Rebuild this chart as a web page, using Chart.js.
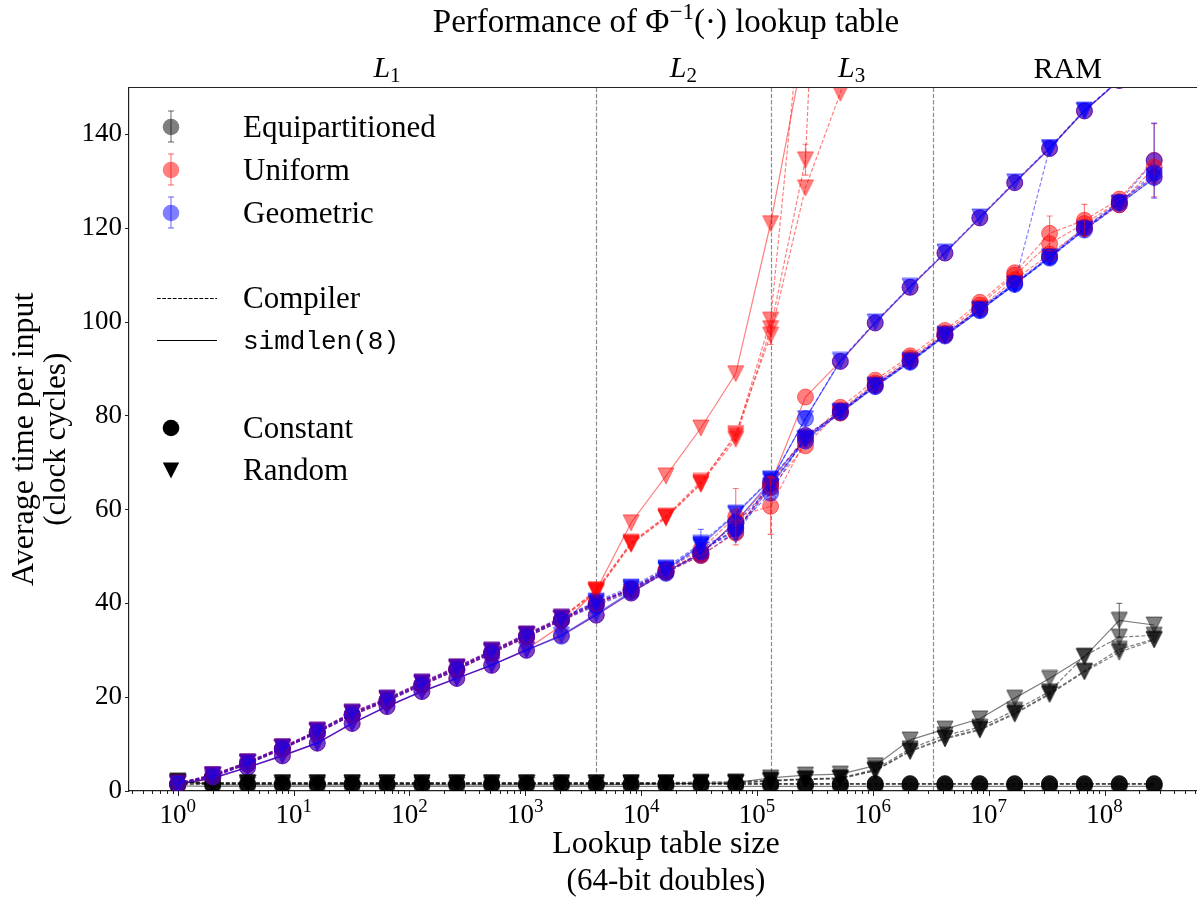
<!DOCTYPE html>
<html>
<head>
<meta charset="utf-8">
<script src="https://cdn.jsdelivr.net/npm/chart.js@4.4.1/dist/chart.umd.min.js"></script>
<style>
  html, body { margin: 0; padding: 0; background: #fff; overflow: hidden; }
  #wrap { width: 1197px; height: 899px; overflow: hidden; }
</style>
</head>
<body>
<div id="wrap"><canvas id="chart" width="1210" height="899"></canvas></div>
<script>
// lookup table sizes (2^0 .. 2^28 doubles)
const sizes = [1, 2, 4, 8, 16, 32, 64, 128, 256, 512, 1024, 2048, 4096, 8192, 16384, 32768,
  65536, 131072, 262144, 524288, 1048576, 2097152, 4194304, 8388608, 16777216, 33554432,
  67108864, 134217728, 268435456];

const cacheSizes = [4096, 131072, 3276800];
const yTicks = [0, 20, 40, 60, 80, 100, 120, 140];
const xTickExponents = [0, 1, 2, 3, 4, 5, 6, 7, 8];

// Equipartitioned
const equiSimdConst = [1.1, 1.0, 1.0, 1.0, 1.0, 1.0, 1.0, 1.0, 1.0, 1.0, 1.0, 1.0, 1.0, 1.0, 1.0, 1.0, 1.0, 1.0, 1.0, 1.0, 1.0, 1.0, 1.0, 1.0, 1.0, 1.0, 1.0, 1.0, 1.0];
const equiCompConstA = [1.5, 1.5, 1.5, 1.5, 1.5, 1.5, 1.5, 1.5, 1.5, 1.5, 1.5, 1.5, 1.5, 1.5, 1.5, 1.5, 1.5, 1.5, 1.5, 1.5, 1.5, 1.5, 1.5, 1.5, 1.5, 1.5, 1.5, 1.5, 1.5];
const equiCompConstB = [1.6, 1.6, 1.6, 1.6, 1.6, 1.6, 1.6, 1.6, 1.6, 1.6, 1.6, 1.6, 1.6, 1.6, 1.6, 1.6, 1.6, 1.6, 1.6, 1.6, 1.6, 1.6, 1.6, 1.6, 1.6, 1.6, 1.6, 1.6, 1.6];
const equiCompConstC = [1.4, 1.4, 1.4, 1.4, 1.4, 1.4, 1.4, 1.4, 1.4, 1.4, 1.4, 1.4, 1.4, 1.4, 1.4, 1.4, 1.4, 1.4, 1.4, 1.4, 1.4, 1.4, 1.4, 1.4, 1.4, 1.4, 1.4, 1.4, 1.4];
const equiSimdRand = [2.2, 1.3, 1.3, 1.3, 1.3, 1.3, 1.3, 1.3, 1.3, 1.3, 1.3, 1.3, 1.3, 1.4, 1.5, 1.6, 1.8, 2.8, 3.4, 3.6, 5.4, 10.9, 13.2, 15.4, 19.8, 24.0, 28.6, 36.4, 35.4];
const equiCompRandA = [2.0, 1.8, 1.8, 1.8, 1.8, 1.8, 1.8, 1.8, 1.8, 1.8, 1.8, 1.8, 1.8, 1.8, 1.8, 1.9, 2.0, 2.3, 2.6, 2.8, 4.6, 9.0, 11.9, 13.6, 17.2, 21.2, 28.8, 32.8, 33.2];
const equiCompRandB = [1.9, 1.7, 1.7, 1.7, 1.7, 1.7, 1.7, 1.7, 1.7, 1.7, 1.7, 1.7, 1.7, 1.7, 1.7, 1.7, 1.7, 2.2, 2.5, 2.7, 4.4, 8.6, 11.3, 13.2, 16.6, 20.8, 25.6, 30.2, 32.4];
const equiCompRandC = [1.9, 1.7, 1.7, 1.7, 1.7, 1.7, 1.7, 1.7, 1.7, 1.7, 1.7, 1.7, 1.7, 1.7, 1.7, 1.7, 1.7, 2.1, 2.4, 2.6, 4.3, 8.4, 11.1, 13.0, 16.4, 20.6, 25.4, 29.6, 32.2];

// Uniform
const uniSimdConst = [1.4, 2.7, 5.0, 7.5, 10.2, 14.4, 18.0, 21.2, 24.0, 26.8, 30.0, 33.2, 37.5, 42.2, 46.8, 50.6, 57.4, 65.5, 84.0, 91.6, 99.8, 107.4, 114.7, 122.2, 129.7, 137.0, 145.0, 151.5, 158.5];
const uniSimdRand = [1.4, 2.7, 5.0, 7.5, 10.2, 14.4, 18.0, 21.2, 24.0, 26.8, 30.2, 35.3, 42.8, 57.2, 67.2, 77.4, 89.0, 121.0, 160.0, null, null, null, null, null, null, null, null, null, null];
const uniCompConstA = [1.5, 3.2, 5.9, 9.1, 12.6, 16.4, 19.4, 22.8, 26.1, 29.6, 33.1, 36.6, 40.2, 43.2, 47.2, 51.5, 58.5, 60.7, 74.8, 81.8, 87.6, 92.8, 98.2, 104.2, 110.5, 118.9, 121.7, 126.2, 134.5];
const uniCompConstB = [1.5, 3.1, 5.8, 9.0, 12.5, 16.2, 19.3, 22.6, 25.9, 29.4, 32.9, 36.4, 40.0, 43.0, 47.0, 50.8, 56.0, 64.6, 73.6, 81.2, 87.0, 92.3, 97.6, 103.6, 110.0, 116.7, 121.0, 125.6, 131.0];
const uniCompConstC = [1.5, 3.0, 5.7, 8.9, 12.4, 16.1, 19.1, 22.5, 25.8, 29.3, 32.8, 36.3, 39.8, 42.6, 46.6, 50.2, 55.0, 65.5, 75.8, 80.6, 86.5, 91.8, 97.2, 103.0, 109.0, 114.5, 120.0, 125.0, 133.0];
const uniCompRandA = [1.6, 3.4, 6.1, 9.3, 12.8, 16.6, 19.6, 23.0, 26.3, 29.8, 33.3, 36.8, 42.9, 53.0, 58.6, 66.0, 75.6, 100.4, 176.0, null, null, null, null, null, null, null, null, null, null];
const uniCompRandB = [1.7, 3.5, 6.2, 9.4, 12.9, 16.8, 19.8, 23.2, 26.5, 30.0, 33.5, 37.0, 42.6, 52.8, 58.4, 65.6, 75.0, 98.6, 134.6, 300.0, null, null, null, null, null, null, null, null, null];
const uniCompRandC = [1.6, 3.3, 6.0, 9.2, 12.7, 16.5, 19.5, 22.9, 26.2, 29.7, 33.2, 36.7, 42.4, 52.6, 58.2, 65.4, 76.2, 97.2, 128.6, 148.8, 175.0, null, null, null, null, null, null, null, null];

// Geometric
const geoSimdConst = [1.4, 2.7, 5.0, 7.5, 10.2, 14.4, 18.0, 21.2, 24.0, 26.8, 30.0, 33.0, 37.5, 42.2, 46.8, 50.4, 57.4, 66.0, 79.4, 91.6, 99.8, 107.4, 114.7, 122.2, 129.7, 137.0, 145.0, 151.5, 158.5];
const geoSimdRand = [1.5, 2.8, 5.1, 7.6, 10.3, 14.5, 18.1, 21.3, 24.1, 26.9, 30.1, 33.2, 37.8, 42.5, 47.2, 52.4, 59.0, 66.4, 75.0, 80.6, 86.2, 91.4, 97.0, 102.4, 108.0, 113.8, 119.6, 125.2, 130.6];
const geoCompConstA = [1.5, 3.2, 5.9, 9.1, 12.6, 16.4, 19.4, 22.8, 26.1, 29.6, 33.1, 36.6, 40.0, 43.0, 47.0, 50.6, 57.0, 64.8, 75.4, 81.0, 86.6, 91.8, 97.4, 102.8, 108.4, 114.0, 120.2, 125.6, 134.4];
const geoCompConstB = [1.5, 3.1, 5.8, 9.0, 12.5, 16.2, 19.3, 22.6, 25.9, 29.4, 32.9, 36.4, 39.8, 42.8, 46.6, 50.2, 55.2, 65.6, 74.6, 80.6, 86.2, 91.4, 97.0, 102.4, 108.0, 113.6, 119.6, 125.0, 130.8];
const geoCompConstC = [1.5, 3.0, 5.7, 8.9, 12.4, 16.1, 19.1, 22.5, 25.8, 29.3, 32.8, 36.3, 39.5, 42.5, 46.4, 51.0, 56.0, 63.5, 75.8, 80.8, 86.4, 91.6, 97.2, 102.6, 108.2, 113.8, 120.0, 125.4, 131.8];
const geoCompRandA = [1.6, 3.4, 6.1, 9.3, 12.8, 16.6, 19.6, 23.0, 26.3, 29.8, 33.3, 36.8, 40.5, 43.5, 47.6, 52.8, 59.2, 66.6, 75.2, 81.0, 86.6, 91.8, 97.4, 102.8, 108.2, 137.0, 145.0, 151.6, 158.6];
const geoCompRandB = [1.7, 3.5, 6.2, 9.4, 12.9, 16.8, 19.8, 23.2, 26.5, 30.0, 33.5, 37.0, 40.2, 43.2, 47.3, 52.4, 55.0, 66.0, 79.4, 91.8, 100.0, 107.6, 114.9, 122.4, 129.9, 137.2, 145.2, 151.7, 158.7];
const geoCompRandC = [1.6, 3.3, 6.0, 9.2, 12.7, 16.5, 19.5, 22.9, 26.2, 29.7, 33.2, 36.7, 40.0, 43.0, 47.0, 52.0, 54.6, 65.0, 75.0, 80.8, 86.4, 91.6, 97.2, 102.6, 108.0, 113.8, 119.8, 125.4, 131.2];

// visible error bars (series, index, half-width)
const errSeries = ["equiSimdRand", "uniCompConstA", "uniCompConstA", "uniCompConstA", "uniCompConstA", "uniCompConstA", "geoCompConstA", "uniCompRandB", "geoCompRandA", "uniCompRandC"];
const errIndex = [27, 16, 17, 25, 26, 28, 28, 18, 15, 17];
const errSize = [3.6, 6.0, 6.0, 3.7, 3.4, 7.8, 8.0, 3.3, 3.0, 2.0];

const K = "rgba(0,0,0,0.5)", R = "rgba(255,0,0,0.5)", B = "rgba(0,0,255,0.5)";
const SERIF = '"Liberation Serif", "DejaVu Serif", serif';
const MONO = '"Liberation Mono", "DejaVu Sans Mono", monospace';

// name, values, colour, dashed, marker -- in plotting order (later ones on top)
const seriesList = [
  ["equiSimdConst", equiSimdConst, K, false, "o"],
  ["equiSimdRand", equiSimdRand, K, false, "v"],
  ["uniSimdConst", uniSimdConst, R, false, "o"],
  ["uniSimdRand", uniSimdRand, R, false, "v"],
  ["geoSimdConst", geoSimdConst, B, false, "o"],
  ["geoSimdRand", geoSimdRand, B, false, "v"],
  ["equiCompConstA", equiCompConstA, K, true, "o"],
  ["equiCompRandA", equiCompRandA, K, true, "v"],
  ["uniCompConstA", uniCompConstA, R, true, "o"],
  ["uniCompRandA", uniCompRandA, R, true, "v"],
  ["geoCompConstA", geoCompConstA, B, true, "o"],
  ["geoCompRandA", geoCompRandA, B, true, "v"],
  ["equiCompConstB", equiCompConstB, K, true, "o"],
  ["equiCompRandB", equiCompRandB, K, true, "v"],
  ["uniCompConstB", uniCompConstB, R, true, "o"],
  ["uniCompRandB", uniCompRandB, R, true, "v"],
  ["geoCompConstB", geoCompConstB, B, true, "o"],
  ["geoCompRandB", geoCompRandB, B, true, "v"],
  ["equiCompConstC", equiCompConstC, K, true, "o"],
  ["equiCompRandC", equiCompRandC, K, true, "v"],
  ["uniCompConstC", uniCompConstC, R, true, "o"],
  ["uniCompRandC", uniCompRandC, R, true, "v"],
  ["geoCompConstC", geoCompConstC, B, true, "o"],
  ["geoCompRandC", geoCompRandC, B, true, "v"]
];

// downward triangle marker, centred on its bounding box like matplotlib's "v"
const triCache = {};
function triangle(color) {
  if (triCache[color]) return triCache[color];
  const s = 16, c = document.createElement("canvas");
  c.width = s + 2; c.height = s + 2;
  const g = c.getContext("2d");
  g.beginPath();
  g.moveTo(1, 1); g.lineTo(s + 1, 1); g.lineTo(s / 2 + 1, s + 1); g.closePath();
  g.fillStyle = color; g.fill();
  g.lineWidth = 1; g.strokeStyle = color; g.stroke();
  triCache[color] = c;
  return c;
}

const datasets = seriesList.map(([name, vals, color, dashed, marker], i) => ({
  label: name,
  data: vals.map((v, k) => ({ x: sizes[k], y: v })),
  borderColor: color,
  borderWidth: 1.2,
  borderDash: dashed ? [4, 2] : [],
  pointStyle: marker === "o" ? "circle" : triangle(color),
  pointRadius: 8,
  pointBackgroundColor: color,
  pointBorderColor: color,
  pointBorderWidth: 1,
  tension: 0,
  fill: false,
  spanGaps: false,
  order: seriesList.length - i
}));

function line(ctx, x1, y1, x2, y2) {
  ctx.beginPath(); ctx.moveTo(x1, y1); ctx.lineTo(x2, y2); ctx.stroke();
}

// draw runs of [text, font, dy] centred on cx
function runs(ctx, parts, cx, y) {
  let w = 0;
  parts.forEach(p => { ctx.font = p[1]; w += ctx.measureText(p[0]).width; });
  let x = cx - w / 2;
  ctx.textAlign = "left";
  parts.forEach(p => {
    ctx.font = p[1];
    ctx.fillText(p[0], x, y + (p[2] || 0));
    x += ctx.measureText(p[0]).width;
  });
}

const decor = {
  id: "decor",
  beforeDatasetsDraw(chart) {
    const { ctx, chartArea: a, scales: { x } } = chart;
    ctx.save();
    ctx.strokeStyle = "rgba(0,0,0,0.45)";
    ctx.lineWidth = 1.2;
    ctx.setLineDash([4.4, 1.9]);
    cacheSizes.forEach(v => {
      const px = Math.round(x.getPixelForValue(v)) + 0.5;
      line(ctx, px, a.top, px, a.bottom);
    });
    ctx.restore();
  },
  afterDatasetsDraw(chart) {
    const { ctx, chartArea: a, scales: { x, y } } = chart;
    ctx.save();
    ctx.beginPath(); ctx.rect(a.left, a.top, a.right - a.left, a.bottom - a.top); ctx.clip();
    ctx.lineWidth = 1.2;
    errSeries.forEach((name, i) => {
      const s = seriesList.find(r => r[0] === name);
      const k = errIndex[i], v = s[1][k], e = errSize[i];
      const px = x.getPixelForValue(sizes[k]);
      const y1 = y.getPixelForValue(v - e), y2 = y.getPixelForValue(v + e);
      ctx.strokeStyle = s[2];
      line(ctx, px, y1, px, y2);
      line(ctx, px - 3, y1, px + 3, y1);
      line(ctx, px - 3, y2, px + 3, y2);
    });
    ctx.restore();
  },
  afterDraw(chart) {
    const { ctx, chartArea: a, scales: { x } } = chart;
    const TXT = "31px " + SERIF;
    ctx.save();
    // top and right spines
    ctx.strokeStyle = "#222"; ctx.lineWidth = 1.2;
    line(ctx, a.left, a.top, a.right, a.top);
    line(ctx, a.right, a.top, a.right, a.bottom);

    // log ticks
    ctx.lineWidth = 1;
    for (let e = -1; e <= 9; e++) {
      for (let m = 1; m < 10; m++) {
        const v = m * Math.pow(10, e);
        if (v < x.min || v > x.max) continue;
        const px = Math.round(x.getPixelForValue(v)) + 0.5;
        line(ctx, px, a.bottom, px, a.bottom + (m === 1 ? 5 : 3));
      }
    }
    ctx.fillStyle = "#000";
    ctx.textBaseline = "alphabetic";
    xTickExponents.forEach(n => {
      const px = x.getPixelForValue(Math.pow(10, n));
      runs(ctx, [["10", "27px " + SERIF], [String(n), "19px " + SERIF, -11]], px, 823);
    });

    // titles
    const cx = (a.left + a.right) / 2;
    runs(ctx, [["Performance of \u03a6", "33px " + SERIF], ["\u22121", "23px " + SERIF, -13],
      ["(\u00b7) lookup table", "33px " + SERIF]], cx, 32);
    runs(ctx, [["Lookup table size", "32px " + SERIF]], cx, 853);
    runs(ctx, [["(64-bit doubles)", TXT]], cx, 890);

    const cy = (a.top + a.bottom) / 2;
    ctx.save();
    ctx.translate(33, cy); ctx.rotate(-Math.PI / 2);
    runs(ctx, [["Average time per input", "32px " + SERIF]], 0, 0);
    ctx.restore();
    ctx.save();
    ctx.translate(65, cy); ctx.rotate(-Math.PI / 2);
    runs(ctx, [["(clock cycles)", TXT]], 0, 0);
    ctx.restore();

    // cache level labels
    const lx = Math.log10;
    const bounds = [1, cacheSizes[0], cacheSizes[1], cacheSizes[2], x.max];
    const names = [["L", "1"], ["L", "2"], ["L", "3"], ["RAM", ""]];
    names.forEach((nm, i) => {
      const mid = Math.pow(10, (lx(bounds[i]) + lx(bounds[i + 1])) / 2);
      const px = x.getPixelForValue(mid);
      if (nm[1]) runs(ctx, [[nm[0], "italic 30px " + SERIF], [nm[1], "21px " + SERIF, 5]], px, 77);
      else runs(ctx, [[nm[0], "30px " + SERIF]], px, 78);
    });

    // legend
    const mx = 171, tx = 243;
    const legendRows = [
      ["Equipartitioned", K, 127], ["Uniform", R, 170], ["Geometric", B, 213]
    ];
    legendRows.forEach(([t, c, yy]) => {
      ctx.fillStyle = c; ctx.strokeStyle = c; ctx.lineWidth = 1.2;
      ctx.beginPath(); ctx.arc(mx, yy, 8.3, 0, Math.PI * 2); ctx.fill();
      line(ctx, mx, yy - 16, mx, yy + 15);
      line(ctx, mx - 3, yy - 16, mx + 3, yy - 16);
      line(ctx, mx - 3, yy + 15, mx + 3, yy + 15);
      ctx.fillStyle = "#000"; ctx.font = TXT; ctx.textAlign = "left";
      ctx.fillText(t, tx, yy + 10);
    });
    ctx.strokeStyle = "#000"; ctx.lineWidth = 1;
    ctx.setLineDash([3.7, 1.6]);
    line(ctx, 157, 298.5, 217, 298.5);
    ctx.setLineDash([]);
    line(ctx, 157, 340.5, 217, 340.5);
    ctx.fillStyle = "#000"; ctx.font = TXT;
    ctx.fillText("Compiler", tx, 308);
    ctx.font = "26px " + MONO;
    ctx.fillText("simdlen(8)", tx, 349);
    ctx.beginPath(); ctx.arc(mx, 428, 8.3, 0, Math.PI * 2); ctx.fill();
    ctx.beginPath(); ctx.moveTo(mx - 8.2, 462.5); ctx.lineTo(mx + 8.2, 462.5); ctx.lineTo(mx, 478.5);
    ctx.closePath(); ctx.fill();
    ctx.font = TXT;
    ctx.fillText("Constant", tx, 438);
    ctx.fillText("Random", tx, 480);
    ctx.restore();
  }
};

new Chart(document.getElementById("chart"), {
  type: "line",
  data: { datasets },
  options: {
    responsive: false,
    devicePixelRatio: 1,
    animation: false,
    layout: { padding: { top: 87.5, right: 7, left: 0, bottom: 0 }, autoPadding: false },
    plugins: { legend: { display: false }, tooltip: { enabled: false }, title: { display: false } },
    scales: {
      x: {
        type: "logarithmic",
        min: 0.37906,
        max: 7.0848e8,
        ticks: { display: false },
        grid: { display: false },
        border: { display: true, color: "#222", width: 1.2 },
        afterFit(s) { s.height = 108; }
      },
      y: {
        min: 0,
        max: 150,
        afterBuildTicks(s) { s.ticks = yTicks.map(v => ({ value: v })); },
        ticks: { font: { family: SERIF, size: 27 }, color: "#000", padding: 3 },
        grid: { drawOnChartArea: false, tickLength: 4, color: "#222" },
        border: { color: "#222", width: 1.2 },
        afterFit(s) { s.width = 129; }
      }
    }
  },
  plugins: [decor]
});
</script>
</body>
</html>
